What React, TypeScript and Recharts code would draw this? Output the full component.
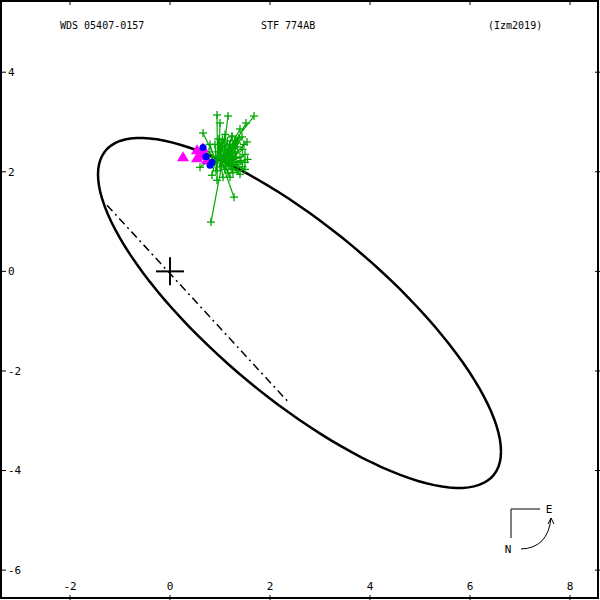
import { ComposedChart, XAxis, YAxis, Line, Scatter } from 'recharts';

const xTicks = [-2, 0, 2, 4, 6, 8];
const yTicks = [-6, -4, -2, 0, 2, 4];

// apparent orbit: centre, half extents in x / y, phase of y (deg)
const orbitCenter = [2.59, -0.835];
const orbitHalfX = 4.03;
const orbitHalfY = 3.515;
const orbitPhase = 142.3;

// line of nodes (dash-dot)
const nodeLine = [
  { x: -1.26, y: 1.33 },
  { x: 2.38, y: -2.64 },
];

// micrometric / visual measures (green +)
const obsPoints = [
  [0.94, 3.14], [1.16, 3.12], [1.68, 3.12], [1.0, 2.98], [1.52, 2.98], [1.4, 2.86],
  [0.66, 2.78], [1.24, 2.7], [1.54, 2.6], [0.96, 2.66], [1.5, 2.19], [0.6, 2.09],
  [0.84, 1.93], [0.94, 1.83], [1.28, 1.49], [0.82, 0.99], [1.2, 1.89], [1.06, 1.89],
  [1.1, 2.45], [1.2, 2.55], [1.3, 2.4], [1.35, 2.5], [1.25, 2.3], [1.15, 2.35],
  [1.05, 2.5], [0.95, 2.4], [0.9, 2.55], [1.4, 2.3], [1.45, 2.45], [1.3, 2.62],
  [1.2, 2.2], [1.1, 2.05], [1.0, 2.1], [0.85, 2.15], [1.35, 2.15], [1.25, 2.05],
  [1.45, 2.1], [1.15, 2.62], [1.05, 2.65], [1.38, 2.68], [0.98, 2.32], [1.28, 2.48],
  [1.18, 2.42], [1.08, 2.32], [1.32, 2.28], [1.42, 2.22], [1.22, 2.38], [1.12, 2.52],
  [0.78, 2.4], [0.72, 2.25], [1.5, 2.35], [1.55, 2.25], [1.48, 2.55], [1.36, 2.02],
  [1.26, 1.98], [1.16, 1.98], [0.92, 2.02], [1.02, 2.58], [1.34, 2.58], [1.24, 2.72],
  [1.44, 2.7], [1.1, 2.75], [0.8, 2.55], [1.5, 2.05], [1.4, 1.95], [1.22, 2.12],
  [1.12, 2.28], [1.02, 2.4],
];

// predicted positions on the orbit for each measure (end of O-C line)
const fitPoints = [
  [0.95, 2.26], [1.05, 2.21], [1.0, 2.24], [0.98, 2.25], [1.1, 2.19], [1.05, 2.21],
  [0.9, 2.28], [1.08, 2.2], [1.12, 2.18], [0.98, 2.25], [1.15, 2.17], [0.88, 2.29],
  [0.92, 2.27], [0.95, 2.26], [1.02, 2.23], [1.05, 2.21], [1.08, 2.2], [1.0, 2.24],
  [1.0, 2.24], [1.04, 2.22], [1.08, 2.2], [1.1, 2.19], [1.06, 2.21], [1.02, 2.23],
  [0.98, 2.25], [0.94, 2.27], [0.92, 2.28], [1.12, 2.18], [1.14, 2.17], [1.08, 2.2],
  [1.04, 2.22], [1.0, 2.24], [0.96, 2.26], [0.9, 2.28], [1.1, 2.19], [1.06, 2.21],
  [1.14, 2.17], [1.02, 2.23], [0.98, 2.25], [1.11, 2.18], [0.95, 2.26], [1.07, 2.2],
  [1.03, 2.22], [0.99, 2.24], [1.09, 2.19], [1.13, 2.18], [1.05, 2.21], [1.01, 2.23],
  [0.87, 2.3], [0.85, 2.31], [1.16, 2.16], [1.18, 2.15], [1.15, 2.17], [1.1, 2.19],
  [1.06, 2.21], [1.02, 2.23], [0.93, 2.27], [0.97, 2.25], [1.1, 2.19], [1.06, 2.21],
  [1.14, 2.17], [1.0, 2.24], [0.88, 2.29], [1.16, 2.16], [1.12, 2.18], [1.05, 2.21],
  [1.01, 2.23], [0.97, 2.25],
];

// interferometric measures (magenta triangles)
const speckleX = [0.26, 0.54, 0.66, 0.64, 0.54, 0.74, 0.6];
const speckleY = [2.29, 2.43, 2.47, 2.37, 2.27, 2.23, 2.32];

// other measures (blue dots)
const blueX = [0.84, 0.66, 0.8, 0.72];
const blueY = [2.19, 2.49, 2.13, 2.3];

const primary = [{ x: 0, y: 0 }];

const orbitData: { x: number; y: number }[] = [];
for (let t = 0; t <= 360; t += 3) {
  const r = (t * Math.PI) / 180;
  orbitData.push({
    x: orbitCenter[0] + orbitHalfX * Math.cos(r),
    y: orbitCenter[1] + orbitHalfY * Math.cos(r - (orbitPhase * Math.PI) / 180),
  });
}

const residuals = obsPoints.flatMap(([x, y], i) => [
  { x, y },
  { x: fitPoints[i][0], y: fitPoints[i][1] },
  { x, y: null },
]);
const obsData = obsPoints.map(([x, y]) => ({ x, y }));
const speckleData = speckleX.map((x, i) => ({ x, y: speckleY[i] }));
const blueData = blueX.map((x, i) => ({ x, y: blueY[i] }));

const GREEN = '#00a800';
const font = { fontFamily: 'DejaVu Sans Mono', fontSize: 11, fill: '#000' };
const titleFont = { fontFamily: 'DejaVu Sans Mono', fontSize: 10, fill: '#000' };

const Plus = (p: any) => (
  <g stroke={GREEN} strokeWidth={1.3}>
    <line x1={p.cx - 4} x2={p.cx + 4} y1={p.cy} y2={p.cy} />
    <line x1={p.cx} x2={p.cx} y1={p.cy - 4} y2={p.cy + 4} />
  </g>
);
const Tri = (p: any) => (
  <polygon
    points={`${p.cx},${p.cy - 6} ${p.cx - 6},${p.cy + 4} ${p.cx + 6},${p.cy + 4}`}
    fill="#ff00ff"
  />
);
const Dot = (p: any) => <circle cx={p.cx} cy={p.cy} r={3.5} fill="#0000ff" />;
const Cross = (p: any) => (
  <g stroke="#000" strokeWidth={2}>
    <line x1={p.cx - 14} x2={p.cx + 14} y1={p.cy} y2={p.cy} />
    <line x1={p.cx} x2={p.cx} y1={p.cy - 14} y2={p.cy + 14} />
  </g>
);
const NoTick = () => <g />;

export default function App() {
  return (
    <div style={{ position: 'absolute', left: 0, top: 0, width: 600, height: 600, background: '#fff' }}>
      <ComposedChart width={600} height={600} margin={{ top: 0, right: 0, bottom: 0, left: 0 }}>
        <XAxis
          type="number" dataKey="x" domain={[-3.4, 8.6]} ticks={xTicks} allowDataOverflow
          orientation="bottom" mirror tickSize={5} tickMargin={5} axisLine={false}
          tickLine={{ stroke: '#000' }} tick={font} interval={0}
        />
        <XAxis
          xAxisId="top" type="number" dataKey="x" domain={[-3.4, 8.6]} ticks={xTicks} allowDataOverflow
          orientation="top" mirror tickSize={5} axisLine={false} tickLine={{ stroke: '#000' }} tick={NoTick}
        />
        <YAxis
          type="number" dataKey="y" domain={[-6.6, 5.45]} ticks={yTicks} allowDataOverflow
          orientation="left" mirror tickSize={6} tickMargin={2} axisLine={false}
          tickLine={{ stroke: '#000' }} tick={font} interval={0}
        />
        <YAxis
          yAxisId="right" type="number" dataKey="y" domain={[-6.6, 5.45]} ticks={yTicks} allowDataOverflow
          orientation="right" mirror tickSize={5} axisLine={false} tickLine={{ stroke: '#000' }} tick={NoTick}
        />
        <Line data={orbitData} dataKey="y" type="linear" stroke="#000" strokeWidth={2.5} dot={false} activeDot={false} isAnimationActive={false} />
        <Line data={nodeLine} dataKey="y" type="linear" stroke="#000" strokeWidth={1.5} strokeDasharray="8 4 2 4" dot={false} activeDot={false} isAnimationActive={false} />
        <Line data={residuals} dataKey="y" type="linear" stroke={GREEN} strokeWidth={1.2} dot={false} activeDot={false} connectNulls={false} isAnimationActive={false} />
        <Scatter data={obsData} shape={Plus} isAnimationActive={false} />
        <Scatter data={speckleData} shape={Tri} isAnimationActive={false} />
        <Scatter data={blueData} shape={Dot} isAnimationActive={false} />
        <Scatter data={primary} shape={Cross} isAnimationActive={false} />
      </ComposedChart>
      <svg width={600} height={600} style={{ position: 'absolute', left: 0, top: 0, pointerEvents: 'none' }}>
        <rect x={1} y={1} width={597} height={597} fill="none" stroke="#000" strokeWidth={2} />
        <text x={60} y={29} {...titleFont}>WDS 05407-0157</text>
        <text x={261} y={29} {...titleFont}>STF 774AB</text>
        <text x={488} y={29} {...titleFont}>(Izm2019)</text>
        <g stroke="#000" strokeWidth={1} fill="none">
          <polyline points="540,509 511,509 511,538" />
          <path d="M521,549 Q548,548 551,518" />
          <polyline points="548,524 551,518 554,524" />
        </g>
        <text x={549} y={513} textAnchor="middle" {...font}>E</text>
        <text x={508} y={553} textAnchor="middle" {...font}>N</text>
      </svg>
    </div>
  );
}
